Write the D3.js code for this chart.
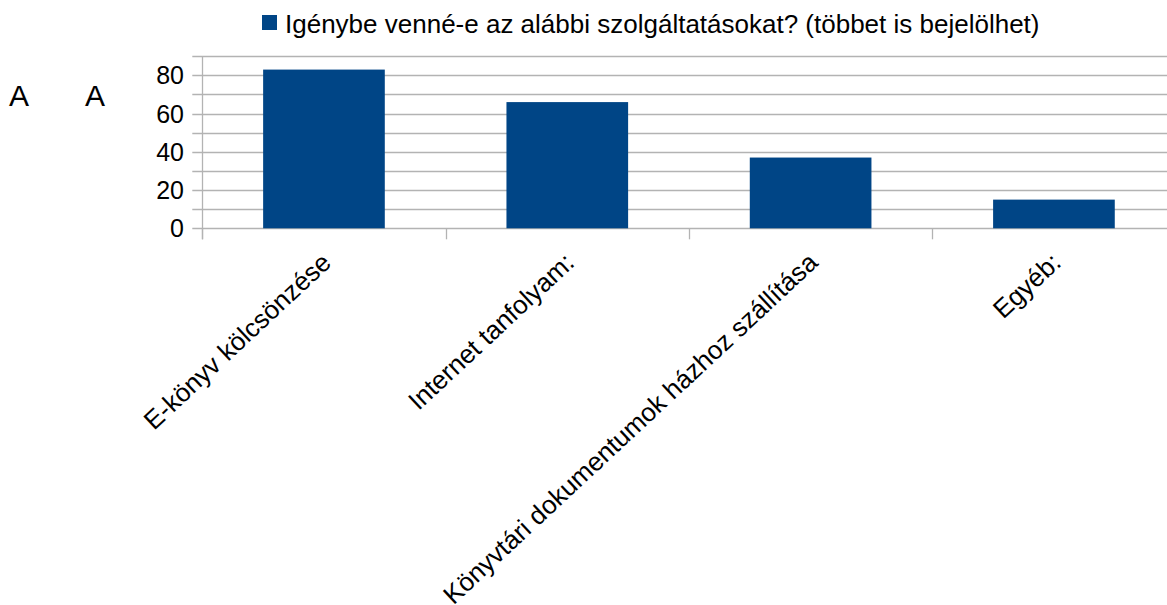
<!DOCTYPE html>
<html>
<head>
<meta charset="utf-8">
<script src="https://cdnjs.cloudflare.com/ajax/libs/d3/7.8.5/d3.min.js"></script>
<style>
  body { margin: 0; background: #fff; }
  text { font-family: "Liberation Sans", Arial, sans-serif; fill: #000; }
</style>
</head>
<body>
<svg class="chart"></svg>
<script>
// chart data
var categories = ["E-könyv kölcsönzése", "Internet tanfolyam:", "Könyvtári dokumentumok házhoz szállítása", "Egyéb:"];
var values = [83, 66, 37, 15];
var seriesName = "Igénybe venné-e az alábbi szolgáltatásokat? (többet is bejelölhet)";
var yTicks = [0, 20, 40, 60, 80];
var yGrid = [0, 10, 20, 30, 40, 50, 60, 70, 80, 90];

var width = 1167, height = 605;
var color = "#004586", gridColor = "#b3b3b3";

var svg = d3.select("svg.chart")
  .attr("width", width)
  .attr("height", height);

// plot area (runs off the right edge like the original)
var plot = {left: 202.3, right: 1175.6, top: 56.2, bottom: 228.3};

var x = d3.scaleBand()
  .domain(categories)
  .range([plot.left, plot.right])
  .paddingInner(0.5)
  .paddingOuter(0.25);

var y = d3.scaleLinear()
  .domain([0, 90])
  .range([plot.bottom, plot.top]);

// horizontal gridlines
svg.append("g")
  .selectAll("line")
  .data(yGrid)
  .enter().append("line")
    .attr("x1", plot.left - 10)
    .attr("x2", plot.right)
    .attr("y1", function(d) { return Math.round(y(d)) + 0.5; })
    .attr("y2", function(d) { return Math.round(y(d)) + 0.5; })
    .attr("stroke", gridColor)
    .attr("stroke-width", 1.3);

// y axis line
svg.append("line")
  .attr("x1", Math.round(plot.left) + 0.5)
  .attr("x2", Math.round(plot.left) + 0.5)
  .attr("y1", plot.top)
  .attr("y2", plot.bottom + 11)
  .attr("stroke", gridColor)
  .attr("stroke-width", 1.3);

// category separator ticks
var step = x.step();
svg.append("g")
  .selectAll("line")
  .data(categories)
  .enter().append("line")
    .attr("x1", function(d) { return Math.round(x(d) - step * 0.25) + 0.5; })
    .attr("x2", function(d) { return Math.round(x(d) - step * 0.25) + 0.5; })
    .attr("y1", plot.bottom)
    .attr("y2", plot.bottom + 11)
    .attr("stroke", gridColor)
    .attr("stroke-width", 1.3);

// bars
svg.append("g")
  .selectAll("rect")
  .data(values)
  .enter().append("rect")
    .attr("x", function(d, i) { return x(categories[i]); })
    .attr("width", x.bandwidth())
    .attr("y", function(d) { return y(d); })
    .attr("height", function(d) { return y(0) - y(d); })
    .attr("fill", color);

// y tick labels
svg.append("g")
  .selectAll("text")
  .data(yTicks)
  .enter().append("text")
    .attr("x", 184)
    .attr("y", function(d) { return y(d); })
    .attr("dy", "0.36em")
    .style("text-anchor", "end")
    .style("font-size", "25px")
    .text(function(d) { return d; });

// rotated category labels
svg.append("g")
  .selectAll("text")
  .data(categories)
  .enter().append("text")
    .attr("transform", function(d) {
      return "translate(" + (x(d) + x.bandwidth() / 2 - 4) + ",251) rotate(-43)";
    })
    .attr("dy", "0.71em")
    .style("text-anchor", "end")
    .style("font-size", "26px")
    .text(function(d) { return d; });

// legend
svg.append("rect")
  .attr("x", 262)
  .attr("y", 15)
  .attr("width", 15)
  .attr("height", 15)
  .attr("fill", color);
svg.append("text")
  .attr("x", 285)
  .attr("y", 33)
  .style("font-size", "26px")
  .text(seriesName);

// stray axis title letters
svg.append("g")
  .selectAll("text")
  .data(["A", "A"])
  .enter().append("text")
    .attr("x", function(d, i) { return i === 0 ? 9 : 85; })
    .attr("y", 106)
    .style("font-size", "30px")
    .text(function(d) { return d; });
</script>
</body>
</html>
